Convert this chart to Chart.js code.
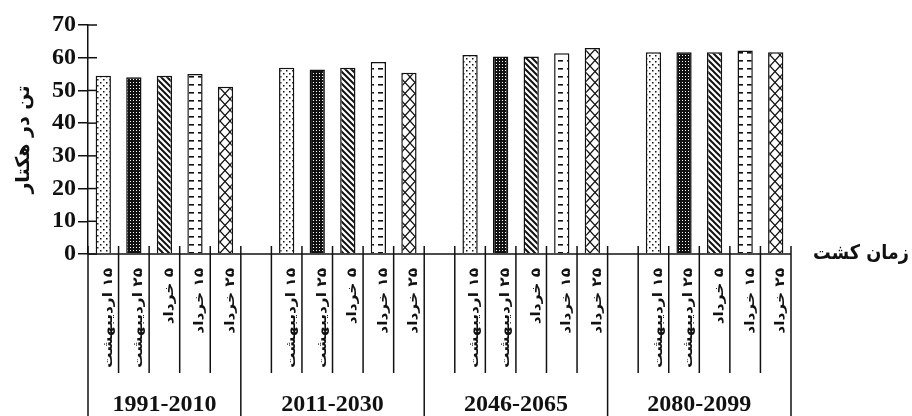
<!DOCTYPE html>
<html lang="fa">
<head>
<meta charset="utf-8">
<title>عملکرد</title>
<script src="https://cdn.jsdelivr.net/npm/chart.js@4.4.1/dist/chart.umd.min.js"></script>
<style>
  html, body { margin: 0; background: #fff; }
  canvas { display: block; }
</style>
</head>
<body>
<canvas id="chart" width="912" height="416"></canvas>
<script>
// yield (t/ha) per sowing date, one array per climate period
const periods = ['1991-2010', '2011-2030', '2046-2065', '2080-2099'];
const sowingDates = ['۱۵ اردیبهشت', '۲۵ اردیبهشت', '۵ خرداد', '۱۵ خرداد', '۲۵ خرداد'];
const yield1991 = [54.5, 54.0, 54.5, 55.0, 51.1];
const yield2011 = [56.9, 56.4, 56.9, 58.7, 55.4];
const yield2046 = [60.8, 60.4, 60.4, 61.4, 63.0];
const yield2080 = [61.7, 61.7, 61.7, 62.2, 61.7];
const yTicks = [0, 10, 20, 30, 40, 50, 60, 70];
const yTitle = 'تن در هکتار';
const xTitle = 'زمان کشت';

const INK = '#111';

function makePattern(w, h, draw) {
  const c = document.createElement('canvas');
  c.width = w;
  c.height = h;
  const g = c.getContext('2d');
  g.fillStyle = '#fff';
  g.fillRect(0, 0, w, h);
  g.fillStyle = INK;
  g.strokeStyle = INK;
  draw(g, w, h);
  return g.createPattern(c, 'repeat');
}

// one fill per sowing date
const fills = [
  makePattern(6, 6, g => {            // dots
    g.fillRect(1, 1, 1.5, 1.5);
    g.fillRect(4, 4, 1.5, 1.5);
  }),
  makePattern(3, 3, g => {            // dark grid
    g.fillRect(0, 0, 3, 3);
    g.fillStyle = '#fff';
    g.fillRect(1, 1, 1, 1);
  }),
  makePattern(6, 6, g => {            // back-diagonal stripes
    g.lineWidth = 2;
    g.beginPath();
    g.moveTo(-1, -1); g.lineTo(7, 7);
    g.moveTo(-4, 2); g.lineTo(4, 10);
    g.moveTo(2, -4); g.lineTo(10, 4);
    g.stroke();
  }),
  makePattern(9, 8, g => {            // short horizontal dashes
    g.fillRect(0, 4, 5, 1.6);
  }),
  makePattern(10, 11, g => {          // diagonal lattice
    g.lineWidth = 1.2;
    g.beginPath();
    g.moveTo(0, 0); g.lineTo(10, 11);
    g.moveTo(10, 0); g.lineTo(0, 11);
    g.stroke();
  })
];

// flatten into category slots, with an empty slot between periods
const periodValues = [yield1991, yield2011, yield2046, yield2080];
const slotLabels = [];
const slotValues = [];
const slotFills = [];
const groupEdges = [0];
periodValues.forEach((vals, p) => {
  if (p > 0) {
    slotLabels.push('');
    slotValues.push(null);
    slotFills.push('#fff');
  }
  vals.forEach((v, d) => {
    slotLabels.push(sowingDates[d]);
    slotValues.push(v);
    slotFills.push(fills[d]);
  });
  groupEdges.push(slotLabels.length);
});
// group label spans: first group starts at 0, later ones include the gap slot
const groupStarts = [0, 5, 11, 17];

const axisFrame = {
  id: 'axisFrame',
  afterDraw(chart) {
    const { ctx, chartArea, scales: { x, y } } = chart;
    const step = x.getPixelForValue(1) - x.getPixelForValue(0);
    const x0 = x.getPixelForValue(0) - step / 2;
    const base = y.getPixelForValue(0);
    const seg = (ax, ay, bx, by) => {
      ctx.beginPath();
      ctx.moveTo(ax, ay);
      ctx.lineTo(bx, by);
      ctx.stroke();
    };

    ctx.save();
    ctx.strokeStyle = INK;
    ctx.lineWidth = 1.5;
    seg(chartArea.left, base, chartArea.right, base);
    yTicks.forEach(v => {
      const ty = y.getPixelForValue(v);
      seg(chartArea.left, ty, chartArea.left + 9, ty);
    });
    for (let i = 0; i <= slotLabels.length; i++) {
      const bx = x0 + i * step;
      const edge = groupEdges.includes(i);
      seg(bx, base - 8, bx, edge ? chart.height : base + 119);
    }

    // sowing date labels, rotated
    ctx.fillStyle = INK;
    ctx.direction = 'rtl';
    ctx.font = 'bold 13px "DejaVu Sans"';
    const sx = 100 / ctx.measureText(sowingDates[0]).width;
    slotLabels.forEach((lab, i) => {
      if (!lab) return;
      ctx.save();
      ctx.translate(x.getPixelForValue(i) + 5, base + 14);
      ctx.rotate(-Math.PI / 2);
      ctx.scale(sx, 1);
      ctx.textAlign = 'right';
      ctx.textBaseline = 'middle';
      ctx.fillText(lab, 0, 0);
      ctx.restore();
    });
    ctx.direction = 'ltr';

    // period labels
    ctx.font = 'bold 24px "Liberation Serif"';
    ctx.textAlign = 'center';
    ctx.textBaseline = 'alphabetic';
    periods.forEach((p, k) => {
      const a = x0 + groupStarts[k] * step;
      const b = x0 + groupEdges[k + 1] * step;
      ctx.fillText(p, (a + b) / 2, 411);
    });

    // x axis title at the right end
    ctx.font = 'bold 20px "DejaVu Sans"';
    ctx.textAlign = 'left';
    ctx.textBaseline = 'middle';
    const tx = chartArea.right + 22;
    const tw = ctx.measureText(xTitle).width;
    ctx.translate(tx, base);
    ctx.scale(Math.min(1, 96 / tw), 1);
    ctx.fillText(xTitle, 0, 0);
    ctx.restore();
  }
};

new Chart(document.getElementById('chart'), {
  type: 'bar',
  data: {
    labels: slotLabels,
    datasets: [{
      data: slotValues,
      backgroundColor: slotFills,
      borderColor: INK,
      borderWidth: 1.5,
      barPercentage: 0.5,
      categoryPercentage: 1
    }]
  },
  options: {
    responsive: false,
    animation: false,
    layout: { padding: { top: 25, right: 121, bottom: 0, left: 0 } },
    plugins: { legend: { display: false }, tooltip: { enabled: false } },
    scales: {
      x: {
        grid: { display: false },
        border: { display: false },
        ticks: { display: false },
        afterFit(scale) { scale.height = 162; }
      },
      y: {
        min: 0,
        max: 70,
        afterBuildTicks(scale) { scale.ticks = yTicks.map(v => ({ value: v })); },
        afterFit(scale) { scale.width = 88; },
        grid: { drawOnChartArea: false, drawTicks: true, tickLength: 10, color: INK, lineWidth: 1.5 },
        border: { display: true, color: INK, width: 1.5 },
        ticks: {
          padding: 2,
          color: INK,
          font: { family: 'Liberation Serif', weight: 'bold', size: 24 }
        },
        title: {
          display: true,
          text: yTitle,
          color: INK,
          padding: { top: 13, bottom: 0 },
          font: { family: 'DejaVu Sans', weight: 'bold', size: 19 }
        }
      }
    }
  },
  plugins: [axisFrame]
});
</script>
</body>
</html>
